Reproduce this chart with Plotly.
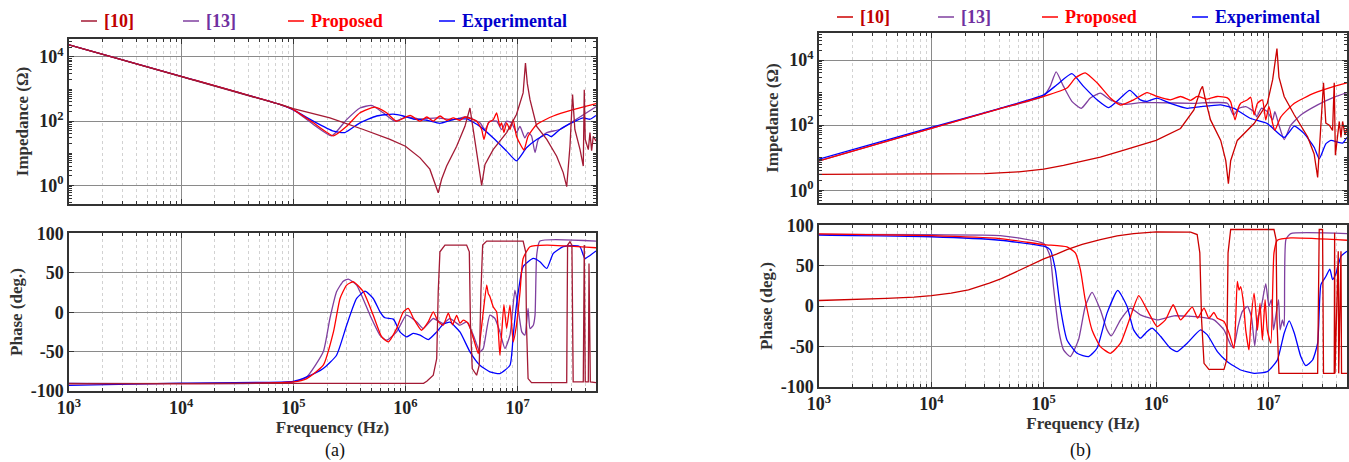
import plotly.graph_objects as go

W, H = 1349, 462

# ---------------- Panel (a): impedance ----------------
a_z10_f = [1e3, 1e4, 7.59e4, 1e5, 1.5e5, 2.12e5, 4.21e5, 7.28e5, 1e6, 1.35e6, 1.65e6, 1.83e6, 1.96e6, 2.1e6,
           2.33e6, 2.86e6, 3.39e6, 3.76e6, 4.03e6, 4.47e6, 4.78e6, 5.12e6, 6.07e6, 7.98e6, 9.77e6, 1.12e7,
           1.175e7, 1.22e7, 1.29e7, 1.48e7, 1.82e7, 2.23e7, 2.55e7, 2.74e7, 2.93e7, 3.09e7, 3.24e7, 3.6e7,
           3.85e7, 3.93e7, 4.01e7, 4.27e7, 4.42e7, 4.57e7, 4.73e7, 5e7]
a_z10_v = [2.4e4, 2.5e3, 331, 245, 175, 126, 55, 27, 16.6, 7.2, 3.2, 1.2, 0.59, 1.55,
           4.0, 16.6, 69, 257, 55, 5.0, 1.0, 4.5, 13.2, 44, 162, 760,
           6500, 1500, 468, 69, 27, 8.1, 2.5, 0.91, 16.6, 676, 55, 13.2,
           4.0, 955, 27, 13, 44, 12, 34, 24]

a_z13_f = [1e3, 1e4, 7.59e4, 1e5, 1.51e5, 2.2e5, 2.99e5, 3.93e5, 4.99e5, 6.34e5, 8.05e5, 1.02e6, 1.35e6,
           1.9e6, 2.67e6, 3.51e6, 4.61e6, 5.12e6, 5.66e6, 6.5e6, 7.19e6, 7.98e6, 8.83e6, 9.77e6, 1.05e7,
           1.16e7, 1.24e7, 1.33e7, 1.43e7, 1.53e7, 1.82e7, 2.38e7, 3.13e7, 5e7]
a_z13_v = [2.4e4, 2.5e3, 331, 230, 79, 35, 112, 257, 309, 182, 100, 135, 117,
           126, 112, 135, 89, 55, 100, 100, 55, 100, 89, 44, 69,
           30, 44, 35, 10.5, 27, 44, 55, 100, 282]

a_zP_f = [1e3, 1e4, 7.59e4, 1e5, 1.51e5, 2.28e5, 2.99e5, 3.93e5, 5.35e5, 6.79e5, 8.32e5, 1.1e6, 1.35e6,
          1.55e6, 1.77e6, 2.03e6, 2.33e6, 2.67e6, 3.06e6, 3.39e6, 4.31e6, 4.78e6, 5.01e6, 5.48e6, 6.07e6,
          6.5e6, 6.95e6, 7.19e6, 7.55e6, 7.98e6, 8.55e6, 9.14e6, 9.77e6, 1.08e7, 1.14e7, 1.24e7, 1.48e7,
          2.08e7, 3.13e7, 5e7]
a_zP_v = [2.4e4, 2.5e3, 331, 230, 89, 35, 69, 182, 275, 182, 100, 151, 100,
          135, 100, 145, 107, 126, 107, 135, 100, 55, 27, 89, 112,
          182, 69, 89, 44, 89, 55, 112, 34, 16.6, 12.6, 34, 79,
          145, 229, 355]

a_zE_f = [1e3, 1e4, 7.59e4, 1e5, 1.51e5, 2.28e5, 2.88e5, 3.93e5, 5.53e5, 7.76e5, 9.55e5, 1.17e6, 1.55e6,
          2.03e6, 2.67e6, 3.51e6, 4.61e6, 6.07e6, 7.98e6, 9.77e6, 1.2e7, 1.48e7, 1.82e7, 2.0e7, 2.38e7,
          3.13e7, 3.85e7, 4.42e7, 5e7]
a_zE_v = [2.4e4, 2.5e3, 331, 224, 100, 49, 44, 89, 145, 166, 145, 117, 107,
          85, 112, 117, 69, 30, 11.7, 5.8, 14.8, 27, 39, 33, 55,
          93, 126, 115, 151]

# ---------------- Panel (a): phase ----------------
a_p10_f = [1e3, 1.45e6, 1.55e6, 1.77e6, 1.9e6, 1.96e6, 2.03e6, 2.25e6, 3.51e6, 3.71e6, 3.8e6, 3.94e6,
           4.31e6, 4.55e6, 4.71e6, 4.88e6, 5.3e6, 1.12e7, 1.18e7, 1.2e7, 1.24e7, 1.33e7, 2.74e7, 2.79e7,
           2.93e7, 3.05e7, 3.13e7, 3.85e7, 3.93e7, 4.01e7, 4.27e7, 4.33e7, 4.45e7, 5e7]
a_p10_v = [-90.6, -90.3, -87.6, -80, -58.8, 26, 76.7, 85.2, 85.2, 76.7, -16.5, -71.5,
           -80, -67.3, 26, 85.2, 90.3, 90.3, 76.7, -16.5, -84.2, -89.3, -89.3, 85.2,
           89.4, 85.2, -88.5, -88.5, 85.2, -88.5, -88.5, 61.9, -88.5, -89.3]

a_p13_f = [1e3, 1e5, 1.32e5, 1.85e5, 2.12e5, 2.43e5, 2.79e5, 3.09e5, 3.67e5, 4.83e5, 5.93e5, 6.79e5,
           8.34e5, 1.02e6, 1.26e6, 1.44e6, 1.77e6, 2.17e6, 2.49e6, 3.06e6, 3.51e6, 4.03e6, 4.61e6,
           4.94e6, 5.66e6, 6.28e6, 6.95e6, 7.71e6, 8.55e6, 9.46e6, 9.93e6, 1.09e7, 1.16e7, 1.24e7,
           1.29e7, 1.38e7, 1.43e7, 1.48e7, 1.58e7, 5e7]
a_p13_v = [-90, -88.5, -82.1, -50.3, -8, 25.9, 39.4, 42, 34.4, -3.8, -29.2, -35.5,
           -25, -3.8, -12.3, -20.8, -8, -14.3, -8, -16.5, -12.3, -29.2, -50.3,
           -46, -3.8, -8, -25, -46.1, -29.2, 28, 13.2, -25, -29.2, 4.7,
           -20.8, -16.5, -3.8, 72.5, 90.3, 90.3]

a_pP_f = [1e3, 1e5, 1.32e5, 1.85e5, 2.28e5, 2.61e5, 2.99e5, 3.43e5, 4.21e5, 5.16e5, 6.14e5, 7.03e5,
          8.34e5, 9.57e5, 1.06e6, 1.17e6, 1.39e6, 1.6e6, 1.77e6, 1.96e6, 2.17e6, 2.41e6, 2.63e6,
          2.86e6, 3.06e6, 3.28e6, 3.63e6, 4.03e6, 4.46e6, 4.61e6, 4.94e6, 5.3e6, 5.48e6, 5.66e6,
          6.07e6, 6.5e6, 6.95e6, 7.19e6, 7.55e6, 7.98e6, 8.55e6, 9.14e6, 9.77e6, 1.05e7, 1.12e7,
          1.29e7, 1.82e7, 5e7]
a_pP_v = [-90.6, -88.5, -84.2, -67.3, -25, 17.4, 34.4, 38.6, 26, -3.8, -31.3, -37.6,
          -20.8, 0.5, 4.7, -7, -22.9, -12, 0.5, -12, -16.5, -1.2, -16,
          -4, -14, -10, -14, -33, -52.5, -37.6, 0.5, 34.4, 23.5, 20,
          6.5, 0.5, -54.6, -29.2, 9.7, -20.8, 8.9, -37.6, -16.5, 25, 68.2,
          83.1, 85.2, 81.8]

a_pE_f = [1e3, 1e4, 1e5, 1.32e5, 1.85e5, 2.43e5, 2.99e5, 3.67e5, 4.36e5, 5.16e5, 5.93e5, 6.56e5,
          7.8e5, 8.93e5, 1.02e6, 1.17e6, 1.35e6, 1.6e6, 1.9e6, 2.17e6, 2.49e6, 3.06e6, 3.76e6,
          4.61e6, 5.66e6, 6.95e6, 8.55e6, 9.14e6, 9.77e6, 1.12e7, 1.38e7, 1.58e7, 1.82e7, 2.08e7,
          2.55e7, 3.13e7, 3.6e7, 3.98e7, 4.42e7, 5e7]
a_pE_v = [-92.8, -90, -87.7, -82.1, -71.5, -54.6, -16.5, 17.4, 26.7, 17.4, 0.5, -7.1,
          -8.8, -25, -31.3, -27, -29.2, -34.7, -25, -15.2, -12.7, -25, -50.3,
          -67.3, -75.7, -77.9, -67.3, -29.2, 9, 57.7, 68.2, 64, 55.5, 74.6,
          83.1, 84.3, 83.1, 68.2, 72, 77.6]

# ---------------- Panel (b): impedance ----------------
b_z10_f = [1e3, 1e4, 3e4, 6e4, 1e5, 1.5e5, 2e5, 3.19e5, 5e5, 7e5, 1e6, 1.65e6, 2.17e6, 2.49e6, 2.59e6,
           2.75e6, 3.05e6, 3.76e6, 4.17e6, 4.4e6, 4.61e6, 5.28e6, 7.45e6, 9.77e6, 1.09e7, 1.19e7, 1.24e7,
           1.38e7, 1.7e7, 2.23e7, 2.55e7, 2.74e7, 2.88e7, 3.09e7, 3.24e7, 3.48e7, 3.72e7, 3.85e7, 3.94e7,
           4.27e7, 4.42e7, 4.57e7, 4.8e7, 5e7]
b_z10_v = [3.1, 3.1, 3.25, 3.7, 4.5, 5.8, 7.2, 10.5, 16.6, 23, 34, 79, 295, 1230, 1550,
           600, 145, 34, 8.1, 1.6, 8.1, 34, 112, 470, 2500, 22400, 3000,
           760, 205, 44, 13, 2.5, 34, 2000, 115, 100, 69, 2000, 12,
           130, 42, 130, 50, 79]

b_z13_f = [1e3, 1e4, 4.09e4, 1e5, 1.14e5, 1.29e5, 1.5e5, 1.78e5, 2.16e5, 2.6e5, 3.19e5, 3.92e5, 5.15e5,
           7.24e5, 1e6, 2.17e6, 4.31e6, 4.88e6, 5.47e6, 6.28e6, 7.45e6, 7.87e6, 8.65e6, 9.77e6, 1.09e7,
           1.14e7, 1.24e7, 1.38e7, 1.58e7, 1.94e7, 2.74e7, 3.85e7, 5e7]
b_z13_v = [8, 80, 320, 790, 1550, 4350, 1550, 540, 330, 680, 960, 600, 440,
           490, 490, 470, 470, 205, 330, 370, 260, 180, 330, 260, 145,
           260, 100, 36, 100, 205, 420, 725, 1000]

b_zP_f = [1e3, 1e4, 4.09e4, 1e5, 1.61e5, 1.91e5, 2.34e5, 2.98e5, 3.92e5, 4.82e5, 6.31e5, 8.32e5, 1.02e6,
          1.34e6, 1.65e6, 2.03e6, 2.32e6, 2.86e6, 3.51e6, 4.31e6, 4.61e6, 5.04e6, 5.37e6, 5.66e6, 6.5e6,
          6.95e6, 7.45e6, 7.98e6, 8.83e6, 9.46e6, 1.01e7, 1.09e7, 1.14e7, 1.29e7, 1.7e7, 2.55e7, 3.85e7, 5e7]
b_zP_v = [8, 80, 320, 760, 1380, 2800, 4050, 2000, 680, 415, 600, 1000, 760,
          600, 760, 580, 760, 630, 760, 690, 520, 145, 330, 470, 600,
          720, 205, 470, 600, 145, 380, 112, 69, 180, 470, 960, 1550, 2000]

b_zE_f = [1e3, 1e4, 4.09e4, 1e5, 1.31e5, 1.78e5, 2.26e5, 2.98e5, 3.78e5, 4.82e5, 5.83e5, 7.24e5, 8.32e5,
          1.02e6, 1.34e6, 1.89e6, 2.49e6, 3.76e6, 4.93e6, 6.95e6, 9.77e6, 1.38e7, 1.7e7, 2.08e7, 2.55e7,
          2.83e7, 3.25e7, 3.6e7, 4.12e7, 4.57e7, 5e7]
b_zE_v = [9, 85, 330, 850, 1740, 3800, 1550, 600, 345, 680, 1170, 600, 540,
          675, 470, 330, 370, 420, 330, 160, 112, 42, 93, 55, 21,
          9.2, 27, 34, 30, 28, 42]

# ---------------- Panel (b): phase ----------------
b_p10_f = [1e3, 2e3, 4e3, 7e3, 1e4, 1.5e4, 2.14e4, 3.28e4, 4.2e4, 5.37e4, 7.5e4, 1e5, 1.3e5, 1.61e5,
           2.2e5, 3.19e5, 4.5e5, 6.31e5, 1e6, 2.03e6, 2.32e6, 2.45e6, 2.54e6, 2.67e6, 2.95e6, 4.02e6,
           4.25e6, 4.37e6, 4.61e6, 1.12e7, 1.17e7, 1.19e7, 1.24e7, 2.74e7, 2.83e7, 3.03e7, 3.09e7,
           3.85e7, 3.88e7, 3.91e7, 4.18e7, 4.22e7, 4.42e7, 4.47e7, 5e7]
b_p10_v = [7.0, 8.0, 9.5, 11.2, 12.9, 16, 20, 28.6, 34, 41, 50, 58.5, 64.5, 70,
           76.5, 82.6, 87, 90, 92, 91.7, 88.8, 66, -17, -71, -78.4, -78.4,
           -66.8, 66, 95, 95, 82.6, -17, -83.4, -83.4, 95, 95, -83.4,
           -83.4, 91, -83.4, 68, -83.4, 68, -83.4, -83.4]

b_p13_f = [1e3, 1e4, 4.09e4, 1e5, 1.14e5, 1.22e5, 1.36e5, 1.5e5, 1.72e5, 2.04e5, 2.34e5, 2.69e5, 3.19e5,
           3.66e5, 4.0e5, 4.82e5, 5.92e5, 7.24e5, 1.02e6, 1.44e6, 1.89e6, 2.49e6, 3.27e6, 4.02e6,
           4.61e6, 4.88e6, 5.37e6, 5.86e6, 6.5e6, 7.05e6, 7.55e6, 7.98e6, 8.65e6, 9.46e6, 1.01e7,
           1.06e7, 1.11e7, 1.16e7, 1.23e7, 1.27e7, 1.33e7, 1.38e7, 1.43e7, 1.58e7, 5e7]
b_p13_v = [89, 88.5, 87.5, 77.6, 61.8, 24.5, -29.5, -54.3, -62.6, -41.9, -0.4, 17, -4.6,
           -29.5, -37, -17, -2.5, -10.8, -17, -12, -12.5, -13.7, -17, -29.5,
           -48, -51.4, -25, -6.6, -0.4, -12.9, -49.4, -17, -0.4, 27.8, -0.4,
           8, -29.5, -12.9, 7.9, -29.5, -17, -25, 82.6, 90, 90]

b_pP_f = [1e3, 1e4, 4.09e4, 1e5, 1.61e5, 1.91e5, 2.12e5, 2.34e5, 2.69e5, 3.19e5, 3.92e5, 4.82e5, 5.92e5,
          7.01e5, 8.32e5, 1.02e6, 1.21e6, 1.42e6, 1.65e6, 2.1e6, 2.34e6, 2.67e6, 2.95e6, 3.27e6,
          3.51e6, 4.02e6, 4.46e6, 4.93e6, 5.11e6, 5.28e6, 5.47e6, 5.66e6, 5.98e6, 6.28e6, 6.71e6,
          6.95e6, 7.45e6, 7.71e6, 7.98e6, 8.41e6, 8.83e6, 9.33e6, 9.77e6, 1.05e7, 1.12e7, 1.2e7,
          1.58e7, 5e7]
b_pP_v = [89.5, 87.5, 83.8, 76.3, 73.4, 66, 45.2, 7.9, -29.5, -50.2, -58.5, -46, -12.9,
          12.9, -4.6, -25.3, -17, 1.7, -17, -1.2, -15, -2.5, -15, -7.9,
          -15, -19, -33.6, -52.3, -17, 30.7, 20, 24, 5, -30, -54.3,
          -22, 16.2, -5, -30, 3.7, -42, 7.9, -30, -46, 66, 81.7,
          84.6, 81.7]

b_pE_f = [1e3, 1e4, 4.09e4, 1e5, 1.14e5, 1.27e5, 1.4e5, 1.61e5, 1.98e5, 2.51e5, 2.98e5, 3.66e5, 4.56e5,
          5.52e5, 6.31e5, 7.24e5, 8.32e5, 9.23e5, 1.1e6, 1.34e6, 1.54e6, 1.89e6, 2.49e6, 2.86e6,
          3.51e6, 4.31e6, 5.66e6, 7.45e6, 9.77e6, 1.2e7, 1.38e7, 1.53e7, 1.7e7, 1.94e7, 2.15e7,
          2.47e7, 2.74e7, 2.93e7, 3.25e7, 3.52e7, 3.72e7, 3.98e7, 4.42e7, 5e7]
b_pE_v = [88, 86, 81.7, 74.3, 70, 45.2, -0.4, -41.9, -58.5, -62.6, -52.3, -8.7, 19.5,
          -0.4, -29.5, -39.8, -31.5, -27.4, -37.7, -52.3, -56.4, -46, -29.5, -35.7,
          -56.4, -68.9, -79.2, -83.4, -81.3, -66.8, -33.6, -18.3, -33.6, -62.6, -73.8,
          -66.8, -46, 26.6, 37, 46, 32.8, 40, 61.8, 68]

# ---------------- styling ----------------
FONT = "Liberation Serif"
C10A, C10B = "#A31A34", "#CC0000"
C13, CP, CE = "#7F3F9F", "#FF0000", "#0000FF"
LEG10, LEG13, LEGP, LEGE = "#C00000", "#7030A0", "#FF0000", "#0000CC"

fig = go.Figure()


def add(f, v, color, xa, ya, smooth=True):
    line = dict(color=color, width=1.3, shape="spline" if smooth else "linear")
    if smooth:
        line["smoothing"] = 0.5
    fig.add_trace(go.Scatter(x=f, y=v, mode="lines", xaxis=xa, yaxis=ya, showlegend=False,
                             hoverinfo="skip", line=line))


# (a) impedance
add(a_z13_f, a_z13_v, C13, "x", "y")
add(a_zE_f, a_zE_v, CE, "x", "y")
add(a_zP_f, a_zP_v, CP, "x", "y")
add(a_z10_f, a_z10_v, C10A, "x", "y", smooth=False)
# (a) phase
add(a_p13_f, a_p13_v, C13, "x2", "y2")
add(a_pE_f, a_pE_v, CE, "x2", "y2")
add(a_pP_f, a_pP_v, CP, "x2", "y2")
add(a_p10_f, a_p10_v, C10A, "x2", "y2", smooth=False)
# (b) impedance
add(b_z13_f, b_z13_v, C13, "x3", "y3")
add(b_zE_f, b_zE_v, CE, "x3", "y3")
add(b_zP_f, b_zP_v, CP, "x3", "y3")
add(b_z10_f, b_z10_v, C10B, "x3", "y3", smooth=False)
# (b) phase
add(b_p13_f, b_p13_v, C13, "x4", "y4")
add(b_pE_f, b_pE_v, CE, "x4", "y4")
add(b_pP_f, b_pP_v, CP, "x4", "y4")
add(b_p10_f, b_p10_v, C10B, "x4", "y4", smooth=False)

x_major = [1e3, 1e4, 1e5, 1e6, 1e7]
x_major_text = ["<b>10<sup>%d</sup></b>" % k for k in range(3, 8)]
x_minor = [m * 10 ** e for e in range(3, 8) for m in range(2, 10) if m * 10 ** e <= 5e7]
z_major = [1, 1e2, 1e4]
z_major_text = ["<b>10<sup>0</sup></b>", "<b>10<sup>2</sup></b>", "<b>10<sup>4</sup></b>"]
z_minor = [m * 10.0 ** e for e in range(-1, 5) for m in range(1, 10) if not (m == 1 and e % 2 == 0)]
p_major = [-100, -50, 0, 50, 100]
p_major_text = ["<b>%d</b>" % v for v in p_major]

tickfont = dict(family=FONT, size=18, color="#222")
titlefont = dict(family=FONT, size=17, color="#333")
GRID = "#8a8a8a"
MINOR_GRID = "#d2d2d2"


def px(x):
    return x / W


def py(y):
    return 1 - y / H


def xaxis_cfg(dom, anchor, labels, title=None):
    d = dict(domain=[px(dom[0]), px(dom[1])], anchor=anchor, type="log", range=[3, 7.699],
             automargin=False,
             tickvals=x_major, ticktext=x_major_text, showticklabels=labels,
             tickfont=tickfont, ticks="inside", ticklen=5, tickcolor="#333",
             showgrid=True, gridcolor=GRID, gridwidth=1,
             showline=True, linecolor="#333", linewidth=1.5, mirror="allticks",
             minor=dict(tickvals=x_minor, ticks="inside", ticklen=3, tickcolor="#333",
                        showgrid=True, gridcolor=MINOR_GRID, griddash="dot", gridwidth=0.8),
             zeroline=False)
    if title:
        d["title"] = dict(text="<b>%s</b>" % title, font=titlefont, standoff=2)
    return d


def zaxis_cfg(dom, anchor, rng):
    return dict(domain=[py(dom[1]), py(dom[0])], anchor=anchor, type="log", range=rng,
                automargin=False,
                tickvals=z_major, ticktext=z_major_text, tickfont=tickfont,
                ticks="inside", ticklen=5, tickcolor="#333",
                showgrid=True, gridcolor=GRID, gridwidth=1,
                showline=True, linecolor="#333", linewidth=1.5, mirror="allticks",
                minor=dict(tickvals=z_minor, ticks="inside", ticklen=3, tickcolor="#333", showgrid=False),
                title=dict(text="<b>Impedance (Ω)</b>", font=titlefont, standoff=6),
                zeroline=False)


def paxis_cfg(dom, anchor, rng):
    return dict(domain=[py(dom[1]), py(dom[0])], anchor=anchor, range=rng,
                automargin=False,
                tickvals=p_major, ticktext=p_major_text, tickfont=tickfont,
                ticks="inside", ticklen=5, tickcolor="#333",
                showgrid=True, gridcolor=GRID, gridwidth=1,
                showline=True, linecolor="#333", linewidth=1.5, mirror="allticks",
                title=dict(text="<b>Phase (deg.)</b>", font=titlefont, standoff=4),
                zeroline=False)


AX = (69, 596)
BX = (819, 1347)

fig.update_layout(
    width=W, height=H, margin=dict(l=0, r=0, t=0, b=0, autoexpand=False),
    paper_bgcolor="white", plot_bgcolor="white", showlegend=False,
    font=dict(family=FONT),
    xaxis=xaxis_cfg(AX, "y", False),
    yaxis=zaxis_cfg((39, 204), "x", [-0.58, 4.56]),
    xaxis2=xaxis_cfg(AX, "y2", True, "Frequency (Hz)"),
    yaxis2=paxis_cfg((233, 391), "x2", [-100, 100.5]),
    xaxis3=xaxis_cfg(BX, "y3", False),
    yaxis3=zaxis_cfg((33, 203), "x3", [-0.39, 4.83]),
    xaxis4=xaxis_cfg(BX, "y4", True, "Frequency (Hz)"),
    yaxis4=paxis_cfg((225, 387), "x4", [-100.3, 100.6]),
)

# custom legends (dash + coloured bold label)
legend_names = ["[10]", "[13]", "Proposed", "Experimental"]
legend_text_colors = [LEG10, LEG13, LEGP, LEGE]
legend_a_lines = [C10A, C13, CP, CE]
legend_b_lines = [C10B, C13, CP, CE]
legend_a_x = [81, 183, 288, 439]
legend_b_x = [837, 938, 1042, 1192]

shapes = []
annotations = []
for xs, yc, lcols in ((legend_a_x, 21, legend_a_lines), (legend_b_x, 17, legend_b_lines)):
    for x0, name, lc, tc in zip(xs, legend_names, lcols, legend_text_colors):
        shapes.append(dict(type="line", xref="paper", yref="paper",
                           x0=px(x0), x1=px(x0 + 16), y0=py(yc), y1=py(yc),
                           line=dict(color=lc, width=1.5)))
        annotations.append(dict(text="<b>%s</b>" % name, xref="paper", yref="paper",
                                x=px(x0 + 21), y=py(yc), xanchor="left", yanchor="middle",
                                showarrow=False, font=dict(family=FONT, size=18, color=tc)))

annotations.append(dict(text="(a)", xref="paper", yref="paper", x=px(335), y=py(450),
                        xanchor="center", yanchor="middle", showarrow=False,
                        font=dict(family=FONT, size=18, color="#111")))
annotations.append(dict(text="(b)", xref="paper", yref="paper", x=px(1080), y=py(450),
                        xanchor="center", yanchor="middle", showarrow=False,
                        font=dict(family=FONT, size=18, color="#111")))

fig.update_layout(shapes=shapes, annotations=annotations)

fig.write_html("out.html")
